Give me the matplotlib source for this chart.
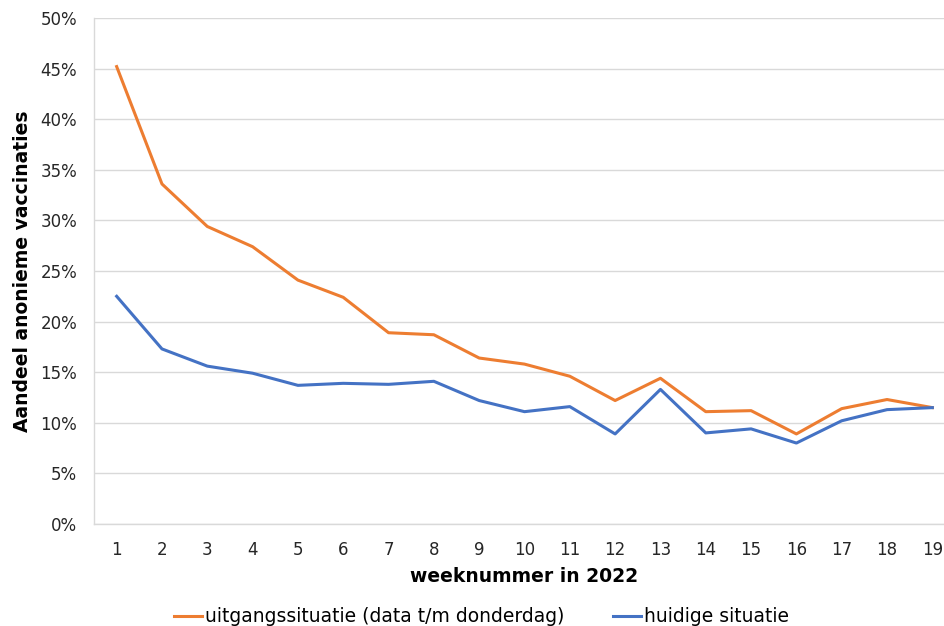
import matplotlib
matplotlib.use("Agg")
import matplotlib.pyplot as plt
from matplotlib.ticker import FuncFormatter

# Aandeel anonieme vaccinaties per week (2022)
weeks = list(range(1, 20))
uitgang = [45.2, 33.6, 29.4, 27.4, 24.1, 22.4, 18.9, 18.7, 16.4, 15.8,
           14.6, 12.2, 14.4, 11.1, 11.2, 8.9, 11.4, 12.3, 11.5]
huidig = [22.5, 17.3, 15.6, 14.9, 13.7, 13.9, 13.8, 14.1, 12.2, 11.1,
          11.6, 8.9, 13.3, 9.0, 9.4, 8.0, 10.2, 11.3, 11.5]
labels = ["uitgangssituatie (data t/m donderdag)", "huidige situatie"]

plt.rcParams.update({"font.family": "DejaVu Sans", "font.size": 12})

W, H = 944, 626
fig = plt.figure(figsize=(W / 100, H / 100), dpi=100)
# axes extend a bit past the right edge, as in the cropped reference
left, right, top, bottom = 94, 955, 18, 524
ax = fig.add_axes([left / W, 1 - bottom / H, (right - left) / W, (bottom - top) / H])

ax.plot(weeks, uitgang, color="#ED7D31", linewidth=2.2, label=labels[0])
ax.plot(weeks, huidig, color="#4472C4", linewidth=2.2, label=labels[1])

ax.set_xlim(0.5, 19.5)
ax.set_ylim(0, 50)
ax.set_xticks(weeks)
ax.set_yticks(range(0, 51, 5))
ax.yaxis.set_major_formatter(FuncFormatter(lambda v, p: f"{v:.0f}%"))
ax.grid(axis="y", color="#d9d9d9", linewidth=1)
ax.set_axisbelow(True)
for s in ["top", "right"]:
    ax.spines[s].set_visible(False)
for s in ["left", "bottom"]:
    ax.spines[s].set_color("#d9d9d9")
    ax.spines[s].set_linewidth(1)
ax.tick_params(axis="y", length=0, pad=12, colors="#262626")
ax.tick_params(axis="x", length=0, pad=12, colors="#262626")

ax.set_xlabel("weeknummer in 2022", fontweight="bold", fontsize=13.5, labelpad=6)
ax.set_ylabel("Aandeel anonieme vaccinaties", fontweight="bold", fontsize=13.5, labelpad=6)

fig.legend(loc="center", bbox_to_anchor=(0.51, 1 - 617 / H), ncol=2, frameon=False,
           handlelength=1.5, handletextpad=0.15, columnspacing=2.6, fontsize=13.5)

fig.savefig("out.png", dpi=100)
